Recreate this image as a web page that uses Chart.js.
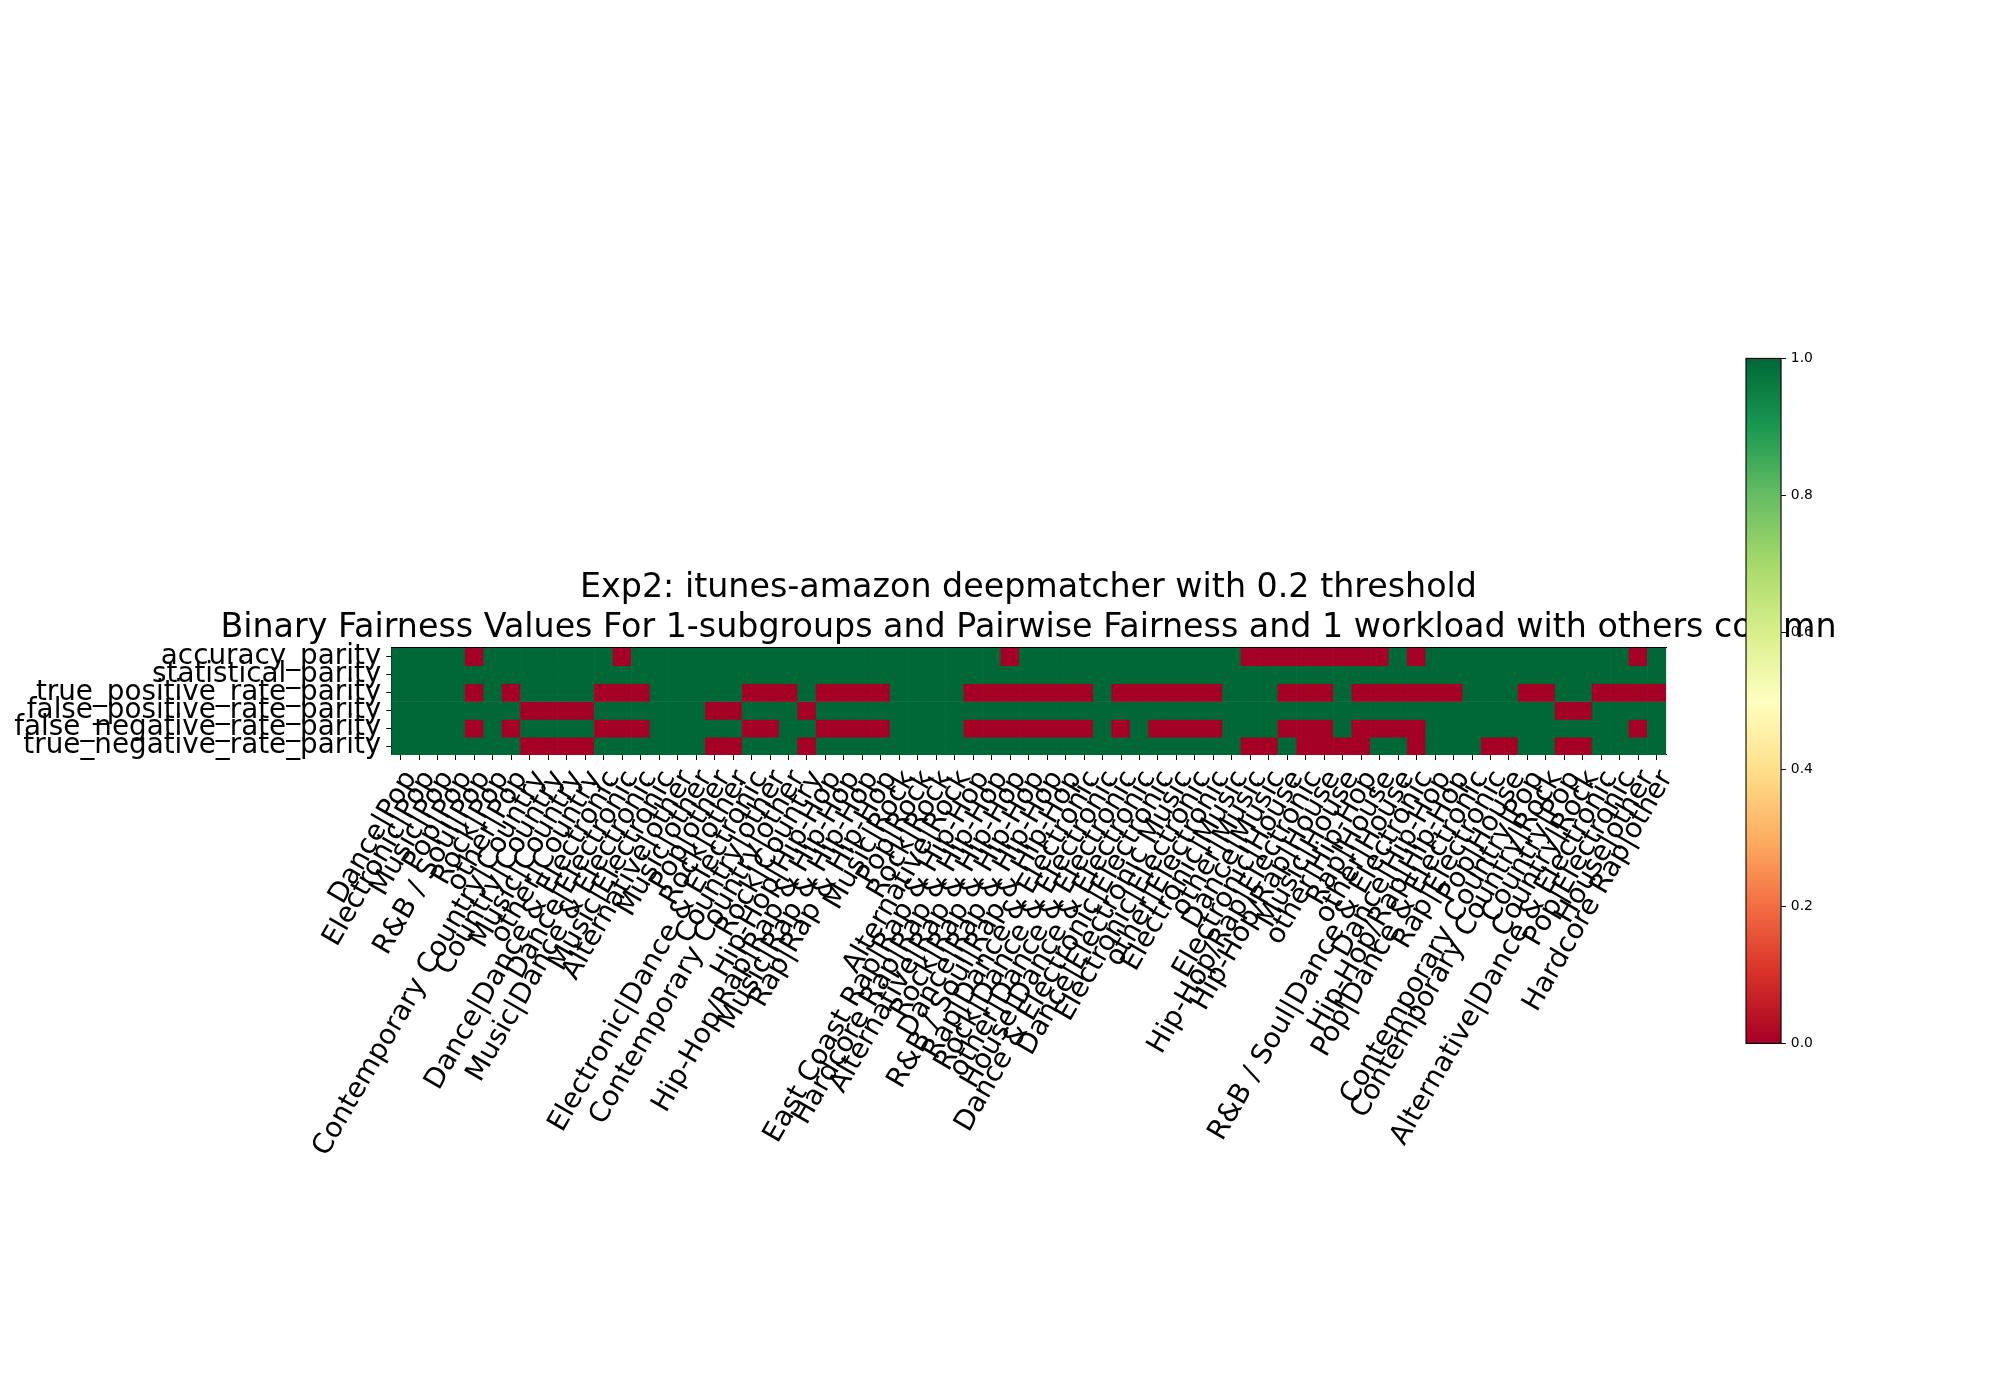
<!DOCTYPE html>
<html>
<head>
<meta charset="utf-8">
<script src="https://cdn.jsdelivr.net/npm/chart.js@4.4.1/dist/chart.umd.min.js"></script>
<style>
  html, body { margin: 0; padding: 0; background: #ffffff; }
  #wrap { position: relative; width: 2000px; height: 1400px; overflow: hidden; background: #fff; }
  #main { position: absolute; left: 0; top: 0; }
  #cbar { position: absolute; left: 1700px; top: 300px; }
</style>
</head>
<body>
<div id="wrap">
  <canvas id="main" width="2000" height="1400"></canvas>
  <canvas id="cbar" width="200" height="800"></canvas>
</div>
<script>
// ---------------- data ----------------
const titleLines = [
  'Exp2: itunes-amazon deepmatcher with 0.2 threshold',
  'Binary Fairness Values For 1-subgroups and Pairwise Fairness and 1 workload with others column'
];

const rowLabels = [
  'accuracy_parity',
  'statistical_parity',
  'true_positive_rate_parity',
  'false_positive_rate_parity',
  'false_negative_rate_parity',
  'true_negative_rate_parity'
];

const categories = [
  'Dance|Pop','Electronic|Pop','Music|Pop','Pop|Pop','R&B / Soul|Pop','Rock|Pop','other|Pop',
  'Contemporary Country|Country','Country|Country','Music|Country','other|Country',
  'Dance|Dance & Electronic','Dance|Electronic','Music|Dance & Electronic','Music|Electronic',
  'Alternative|other','Music|other','Pop|other','Rock|other',
  'Electronic|Dance & Electronic','Country|other','Contemporary Country|other','Rock|Country',
  'Hip-Hop|Hip-Hop','Hip-Hop/Rap|Rap & Hip-Hop','Music|Rap & Hip-Hop','Rap|Rap & Hip-Hop',
  'Music|Rock','Pop|Rock','Rock|Rock','Alternative|Rock',
  'East Coast Rap|Rap & Hip-Hop','Hardcore Rap|Rap & Hip-Hop','Alternative|Rap & Hip-Hop',
  'Rock|Rap & Hip-Hop','Dance|Rap & Hip-Hop','R&B / Soul|Rap & Hip-Hop',
  'Rap|Dance & Electronic','Rock|Dance & Electronic','other|Dance & Electronic',
  'House|Dance & Electronic','Dance & Electronic|Electronic',
  'Dance|Electronic Music','Electronic|Electronic','other|Electronic',
  'Electronic|Music','other|Music','Dance|Music',
  'Electronic|House','Hip-Hop/Rap|Electronic','Hip-Hop/Rap|House','Music|House',
  'other|Hip-Hop','Rap|House','other|House',
  'R&B / Soul|Dance & Electronic','Dance|Hip-Hop','Hip-Hop/Rap|Hip-Hop','Pop|Dance & Electronic',
  'Rap|Electronic','Pop|House','Contemporary Country|Pop','Contemporary Country|Rock',
  'Country|Pop','Country|Rock',
  'Alternative|Dance & Electronic','Pop|Electronic','House|other','Hardcore Rap|other'
];

const accuracyParity = [
  1,1,1,1,0,1,1,1,1,1,
  1,1,0,1,1,1,1,1,1,1,
  1,1,1,1,1,1,1,1,1,1,
  1,1,1,0,1,1,1,1,1,1,
  1,1,1,1,1,1,0,0,0,0,
  0,0,0,0,1,0,1,1,1,1,
  1,1,1,1,1,1,1,0,1
];
const statisticalParity = [
  1,1,1,1,1,1,1,1,1,1,
  1,1,1,1,1,1,1,1,1,1,
  1,1,1,1,1,1,1,1,1,1,
  1,1,1,1,1,1,1,1,1,1,
  1,1,1,1,1,1,1,1,1,1,
  1,1,1,1,1,1,1,1,1,1,
  1,1,1,1,1,1,1,1,1
];
const truePositiveRateParity = [
  1,1,1,1,0,1,0,1,1,1,
  1,0,0,0,1,1,1,1,1,0,
  0,0,1,0,0,0,0,1,1,1,
  1,0,0,0,0,0,0,0,1,0,
  0,0,0,0,0,1,1,1,0,0,
  0,1,0,0,0,0,0,0,1,1,
  1,0,0,1,1,0,0,0,0
];
const falsePositiveRateParity = [
  1,1,1,1,1,1,1,0,0,0,
  0,1,1,1,1,1,1,0,0,1,
  1,1,0,1,1,1,1,1,1,1,
  1,1,1,1,1,1,1,1,1,1,
  1,1,1,1,1,1,1,1,1,1,
  1,1,1,1,1,1,1,1,1,1,
  1,1,1,0,0,1,1,1,1
];
const falseNegativeRateParity = [
  1,1,1,1,0,1,0,1,1,1,
  1,0,0,0,1,1,1,1,1,0,
  0,1,1,0,0,0,0,1,1,1,
  1,0,0,0,0,0,0,0,1,0,
  1,0,0,0,0,1,1,1,0,0,
  0,1,0,0,0,0,1,1,1,1,
  1,1,1,1,1,1,1,0,1
];
const trueNegativeRateParity = [
  1,1,1,1,1,1,1,0,0,0,
  0,1,1,1,1,1,1,0,0,1,
  1,1,0,1,1,1,1,1,1,1,
  1,1,1,1,1,1,1,1,1,1,
  1,1,1,1,1,1,0,0,1,0,
  0,0,0,1,1,0,1,1,1,0,
  0,1,1,0,0,1,1,1,1
];

const rowValues = [
  accuracyParity, statisticalParity, truePositiveRateParity,
  falsePositiveRateParity, falseNegativeRateParity, trueNegativeRateParity
];

const colorbarTicks = [0.0, 0.2, 0.4, 0.6, 0.8, 1.0];
const vmin = 0, vmax = 1;

// ---------------- colormap (RdYlGn) ----------------
const rdylgn = ['#a50026','#d73027','#f46d43','#fdae61','#fee08b','#ffffbf',
                '#d9ef8b','#a6d96a','#66bd63','#1a9850','#006837'];
function hexToRgb(h) { return [parseInt(h.slice(1,3),16), parseInt(h.slice(3,5),16), parseInt(h.slice(5,7),16)]; }
function cmap(v) {
  const t = Math.max(0, Math.min(1, (v - vmin) / (vmax - vmin))) * (rdylgn.length - 1);
  const i = Math.min(Math.floor(t), rdylgn.length - 2);
  const f = t - i;
  const a = hexToRgb(rdylgn[i]), b = hexToRgb(rdylgn[i + 1]);
  const c = a.map((x, k) => Math.round(x + (b[k] - x) * f));
  return `rgb(${c[0]},${c[1]},${c[2]})`;
}

Chart.defaults.font.family = "'DejaVu Sans', sans-serif";
Chart.defaults.color = '#000';

const FS_TICK = 27.8;
const FS_TITLE = 33.3;

// ---------------- main heatmap ----------------
const datasets = rowValues.map((vals, r) => ({
  label: rowLabels[r],
  data: vals.map(() => 1),          // each cell spans one row unit; colour carries the value
  backgroundColor: vals.map(v => cmap(v)),
  borderWidth: 0,
  barPercentage: 1.0,
  categoryPercentage: 1.0,
  stack: 'cells'
}));

new Chart(document.getElementById('main'), {
  type: 'bar',
  data: { labels: categories, datasets },
  options: {
    responsive: false,
    animation: false,
    devicePixelRatio: 1,
    layout: { padding: { left: 0, right: -57, top: 568, bottom: 0 } },
    plugins: {
      legend: { display: false },
      tooltip: { enabled: false },
      title: {
        display: true,
        text: titleLines,
        fullSize: true,
        font: { size: FS_TITLE, weight: 'normal', lineHeight: 1.2 },
        color: '#000',
        padding: { top: 0, bottom: 0 }
      }
    },
    scales: {
      x: {
        type: 'category',
        stacked: true,
        offset: true,
        grid: { display: true, drawOnChartArea: false, drawTicks: true, tickLength: 5, color: '#000', lineWidth: 1, offset: false },
        border: { display: true, color: '#000', width: 1.1 },
        ticks: { autoSkip: false, minRotation: 60, maxRotation: 60, padding: 5, labelOffset: 10,
                 font: { size: FS_TICK }, color: '#000' },
        afterFit: s => { s.height = 645; }
      },
      x2: {
        type: 'category',
        position: 'top',
        grid: { display: false },
        border: { display: true, color: '#000', width: 1.1 },
        ticks: { display: false },
        afterFit: s => { s.height = 0; }
      },
      y: {
        type: 'linear',
        stacked: true,
        reverse: true,
        min: 0,
        max: rowLabels.length,
        afterBuildTicks: s => { s.ticks = rowLabels.map((_, i) => ({ value: i + 0.5 })); },
        ticks: { autoSkip: false, padding: 5, font: { size: FS_TICK }, color: '#000',
                 callback: v => rowLabels[Math.floor(v)] },
        grid: { display: true, drawOnChartArea: false, drawTicks: true, tickLength: 5, color: '#000', lineWidth: 1 },
        border: { display: true, color: '#000', width: 1.1 },
        afterFit: s => { s.width = 391.3; }
      },
      y2: {
        type: 'linear',
        position: 'right',
        grid: { display: false },
        border: { display: true, color: '#000', width: 1.1 },
        ticks: { display: false },
        afterFit: s => { s.width = 391; }
      }
    }
  }
});

// ---------------- colorbar ----------------
const framePlugin = {
  id: 'frame',
  afterDraw(chart) {
    const { ctx, chartArea: a } = chart;
    ctx.save();
    ctx.strokeStyle = '#000';
    ctx.lineWidth = 1.1;
    ctx.strokeRect(a.left, a.top, a.right - a.left, a.bottom - a.top);
    ctx.restore();
  }
};

function gradientFill(context) {
  const chart = context.chart;
  const a = chart.chartArea;
  if (!a) return null;
  const g = chart.ctx.createLinearGradient(0, a.bottom, 0, a.top);
  rdylgn.forEach((c, i) => g.addColorStop(i / (rdylgn.length - 1), c));
  return g;
}

new Chart(document.getElementById('cbar'), {
  type: 'bar',
  data: { labels: [''], datasets: [{ data: [[vmin, vmax]], backgroundColor: gradientFill,
          borderWidth: 0, barPercentage: 1.0, categoryPercentage: 1.0 }] },
  options: {
    responsive: false,
    animation: false,
    devicePixelRatio: 1,
    layout: { padding: { left: 46, right: 0, top: 58.4, bottom: 56.6 } },
    plugins: { legend: { display: false }, tooltip: { enabled: false } },
    scales: {
      x: { display: false },
      y: {
        position: 'right',
        min: vmin, max: vmax,
        afterBuildTicks: s => { s.ticks = colorbarTicks.map(v => ({ value: v })); },
        ticks: { padding: 4.9, font: { size: 13.9 }, color: '#000', callback: v => Number(v).toFixed(1) },
        grid: { display: true, drawOnChartArea: false, drawTicks: true, tickLength: 4.9, color: '#000' },
        border: { display: true, color: '#000', width: 1.1 },
        afterFit: s => { s.width = 119; }
      }
    }
  },
  plugins: [framePlugin]
});
</script>
</body>
</html>
